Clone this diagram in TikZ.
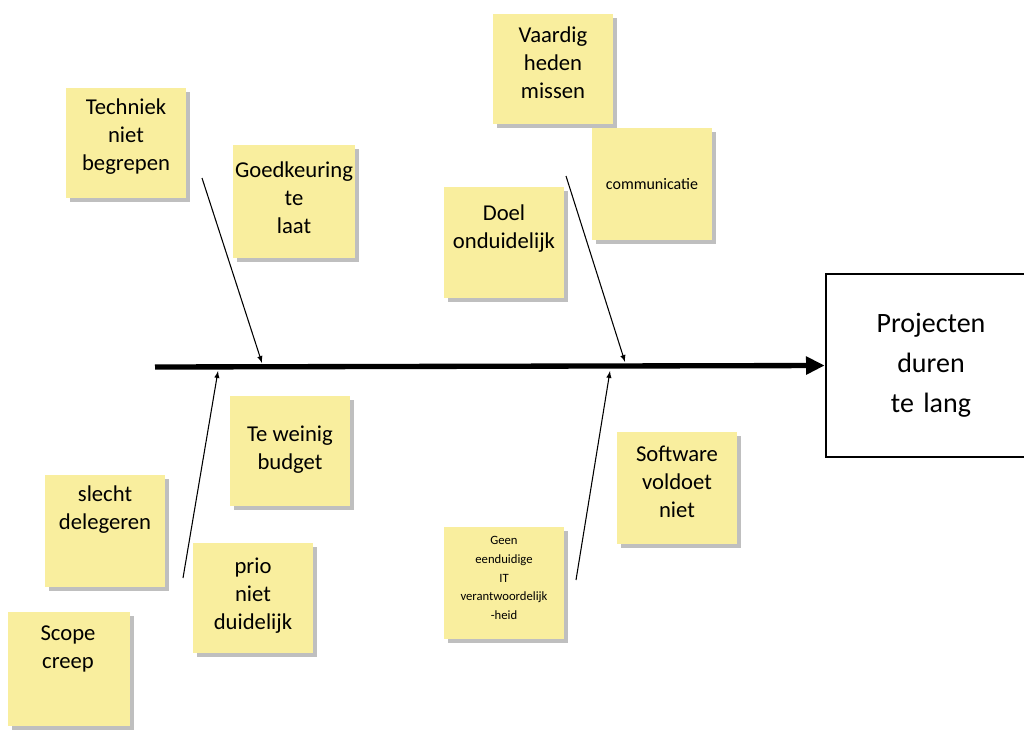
\documentclass[tikz,border=0pt]{standalone}
\usetikzlibrary{arrows.meta}
\usepackage{fontspec}
\setmainfont{Carlito}
\begin{document}
\begin{tikzpicture}[x=0.75pt,y=-0.75pt,
 note/.style={fill=none, draw=none, align=center, inner sep=0pt, font=\fontsize{17}{21}\selectfont},
 arr/.style={-latex, line width=0.8pt}]
\definecolor{postit}{HTML}{F9EE9E}
\useasboundingbox (0,0) rectangle (1024,740);
\newcommand\note[6]{%
 \fill[black!25] (#2+4,#3+4) rectangle (#4+4,#5+4);
 \fill[postit] (#2,#3) rectangle (#4,#5);
 \node[note,#6] (#1) at ({(#2+#4)/2},{(#3+#5)/2}) {};}
\note{n1}{66}{88}{186}{198}{}
\node[note] at (126,137) {Techniek\\niet\\begrepen};
\note{n2}{233}{145}{355}{258}{}
\node[note] at (294,198) {Goedkeuring\\te\\laat};
\note{n3}{493}{14}{613}{124}{}
\node[note] at (553,63) {Vaardig\\heden\\missen};
\note{n4}{592}{128}{712}{240}{}
\node[note,font=\fontsize{12}{14}\selectfont] at (652,184) {communicatie};
\note{n5}{444}{187}{564}{298}{}
\node[note] at (504,229) {Doel\\onduidelijk};
\note{n6}{230}{396}{350}{506}{}
\node[note] at (290,450) {Te weinig\\budget};
\note{n7}{45}{475}{165}{587}{}
\node[note] at (105,510) {slecht\\delegeren};
\note{n8}{193}{543}{313}{653}{}
\node[note] at (253,596) {prio\\niet\\duidelijk};
\note{n9}{8}{612}{130}{726}{}
\node[note] at (68,649) {Scope\\creep};
\note{n10}{444}{527}{564}{639}{}
\node[note,font=\fontsize{9.5}{14}\selectfont] at (504,578) {Geen\\eenduidige\\IT\\verantwoordelijk\\-heid};
\note{n11}{617}{432}{737}{544}{}
\node[note] at (677,482) {Software\\voldoet\\niet};
\node[draw,line width=1.5pt,minimum width=158,minimum height=137,align=center,font=\fontsize{21}{30}\selectfont,inner sep=0pt,text width=150] (res) at (931,365.5) {Projecten\\duren\\te lang};
\coordinate (s) at (155,367);
\draw[line width=4pt,-{Triangle[length=14pt,width=13pt]}] (s) -- (res.west);
\coordinate (a1) at (202,178); \coordinate (b1) at (262,363);
\coordinate (a2) at (183,578); \coordinate (b2) at (218,371);
\coordinate (a3) at (566,176); \coordinate (b3) at (625,362);
\coordinate (a4) at (576,580); \coordinate (b4) at (610,371);
\draw[arr] (a1)--(b1); \draw[arr] (a2)--(b2); \draw[arr] (a3)--(b3); \draw[arr] (a4)--(b4);
\end{tikzpicture}
\end{document}
